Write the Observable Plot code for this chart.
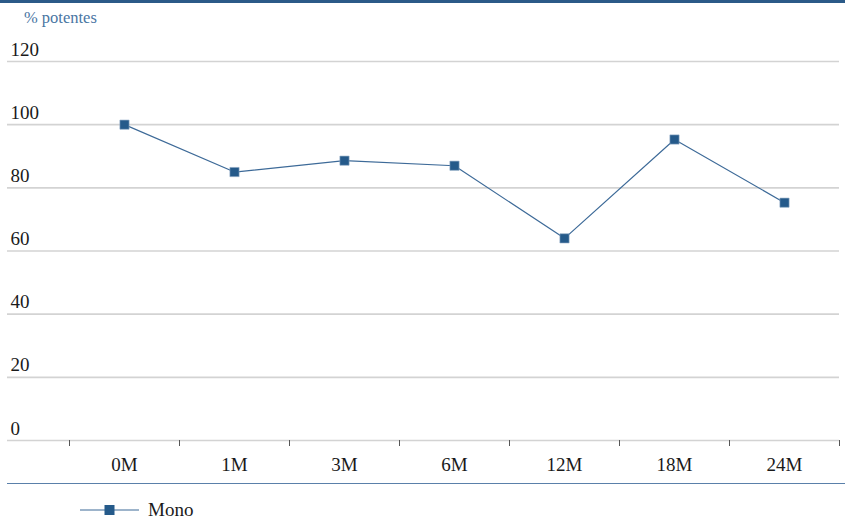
<!DOCTYPE html>
<html>
<head>
<meta charset="utf-8">
<script src="https://cdn.jsdelivr.net/npm/d3@7"></script>
<script src="https://cdn.jsdelivr.net/npm/@observablehq/plot@0.6"></script>
<style>
  html, body { margin: 0; padding: 0; background: #fff; }
  #wrap { position: relative; width: 845px; height: 530px; font-family: "Liberation Serif", "DejaVu Serif", serif; }
  #topbar { position: absolute; left: 0; top: 0; width: 845px; height: 3px; background: #2b5a88; }
  #unit { position: absolute; left: 24px; top: 8px; font-size: 16.5px; line-height: 20px; color: #4a76a3; }
  #chart { position: absolute; left: 0; top: 0; }
  #sep { position: absolute; left: 7px; top: 483px; width: 838px; height: 1px; background: #5a80aa; }
  #legend { position: absolute; left: 80px; top: 498px; height: 24px; display: flex; align-items: center; font-size: 19px; color: #1a1a1a; }
  #legend svg { margin-right: 8px; }
</style>
</head>
<body>
<div id="wrap">
  <div id="chart"></div>
  <div id="topbar"></div>
  <div id="unit">% potentes</div>
  <div id="sep"></div>
  <div id="legend"></div>
</div>
<script>
// Time points after treatment and share of potent patients (%)
const periods = ["0M", "1M", "3M", "6M", "12M", "18M", "24M"];
const mono = [100, 85, 88.6, 87, 64, 95.3, 75.3];
const yTicks = [0, 20, 40, 60, 80, 100, 120];
const seriesName = "Mono";

const lineColor = "#3d6a98";
const markerColor = "#255a8a";

const rows = periods.map((p, i) => ({period: p, value: mono[i]}));

const W = 845, H = 484;
const left = 7, right = 6;
const plotLeft = 69, plotRight = 839;
const bw = (plotRight - plotLeft) / periods.length;

const chart = Plot.plot({
  width: W,
  height: H,
  marginTop: 61,
  marginBottom: 44,
  marginLeft: left,
  marginRight: right,
  style: {fontFamily: "Liberation Serif, DejaVu Serif, serif", fontSize: "19px", color: "#1a1a1a", background: "transparent"},
  x: {type: "band", domain: periods, range: [plotLeft, plotRight], padding: 0, label: null},
  y: {domain: [0, 120], label: null},
  marks: [
    Plot.ruleY(yTicks, {stroke: "#d3d3d3", strokeWidth: 1.6}),
    Plot.axisY(yTicks, {anchor: "left", tickSize: 0, tickPadding: 0, textAnchor: "start", dx: 3, dy: -12, fill: "#1a1a1a", fontSize: 19, label: null}),
    // tick marks on the category boundaries
    Plot.axisX({tickSize: 6, text: null, dx: -bw / 2, stroke: "#555", label: null}),
    Plot.axisX(periods.slice(-1), {tickSize: 6, text: null, dx: bw / 2, stroke: "#555", label: null}),
    Plot.axisX({tickSize: 0, tickPadding: 17, fill: "#1a1a1a", fontSize: 19, label: null}),
    Plot.line(rows, {x: "period", y: "value", stroke: lineColor, strokeWidth: 1.2}),
    Plot.dot(rows, {x: "period", y: "value", symbol: "square", r: 5.2, fill: markerColor, stroke: "#8fa9c4", strokeWidth: 0.6})
  ]
});
document.getElementById("chart").appendChild(chart);

// Legend: line with square marker and series name
const lg = d3.select("#legend");
const ls = lg.append("svg").attr("width", 60).attr("height", 24);
ls.append("line").attr("x1", 0).attr("x2", 59).attr("y1", 12).attr("y2", 12).attr("stroke", lineColor).attr("stroke-width", 1.2);
ls.append("rect").attr("x", 24.5).attr("y", 7).attr("width", 10).attr("height", 10).attr("fill", markerColor);
lg.append("span").text(seriesName);
</script>
</body>
</html>
